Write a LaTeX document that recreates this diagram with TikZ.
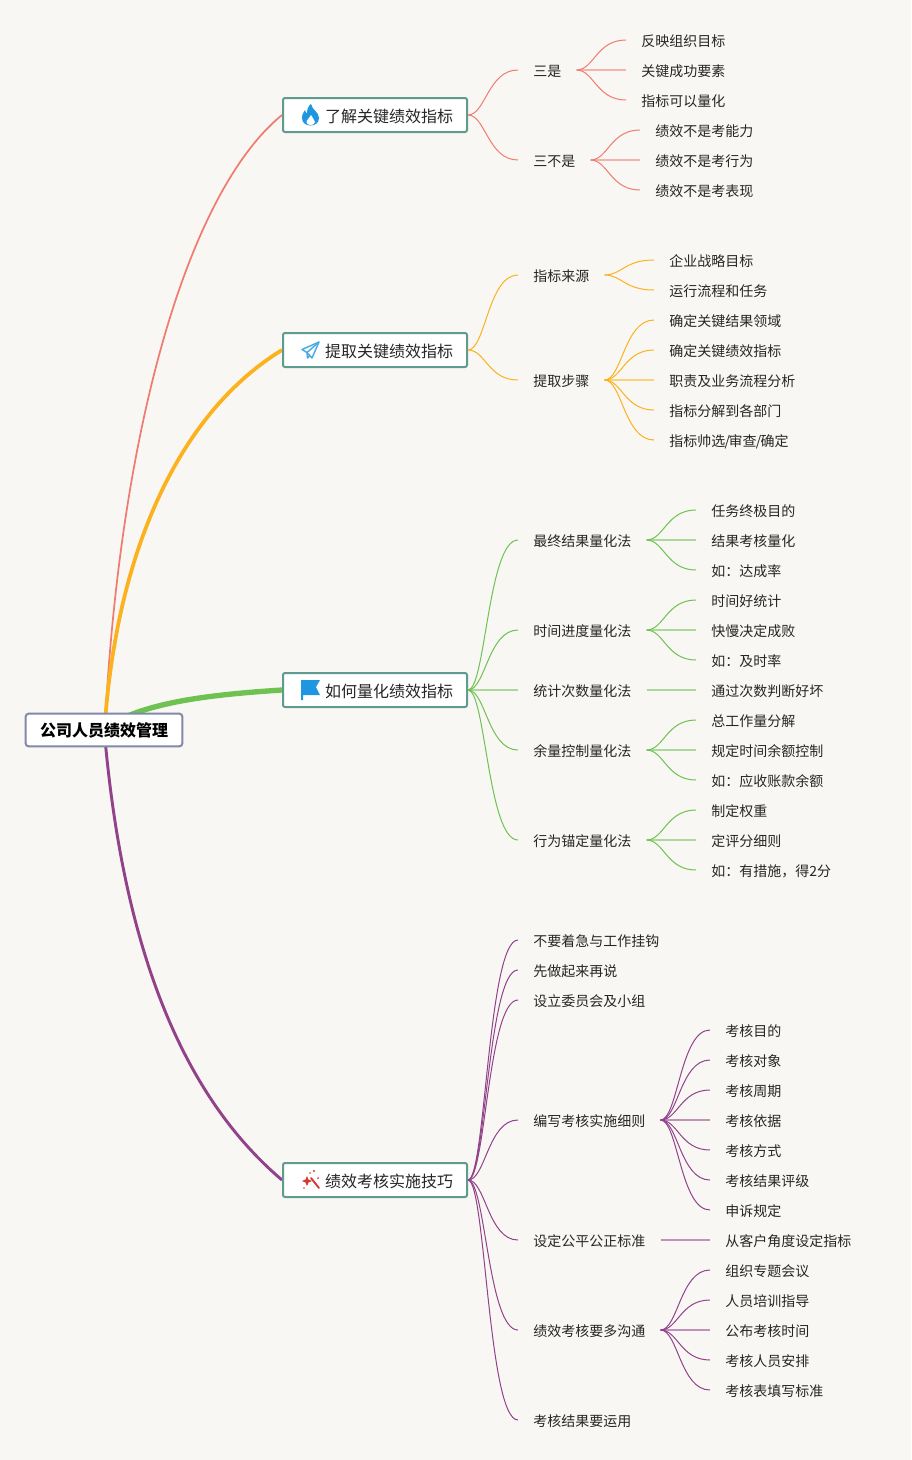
\documentclass[tikz,border=0pt]{standalone}
\usepackage{fontspec}
\setmainfont{Noto Sans CJK SC}
\usetikzlibrary{calc}
\definecolor{bgc}{HTML}{F9F7F4}
\definecolor{cone}{HTML}{F07C70}
\definecolor{ctwo}{HTML}{FBB21E}
\definecolor{cthree}{HTML}{6EC252}
\definecolor{cfour}{HTML}{91428A}
\definecolor{boxc}{HTML}{5F9B8F}
\definecolor{rootc}{HTML}{8189A6}
\definecolor{iconb}{HTML}{1E96E0}
\definecolor{iconr}{HTML}{D8392F}
\pgfdeclarelayer{under}
\pgfsetlayers{under,main}
\tikzset{
  x=0.75pt,y=-0.75pt,
  txt/.style={anchor=west,inner xsep=11.25pt,inner ysep=0pt,font=\fontsize{10.5pt}{12pt}\selectfont,text=black!85,text height=11.2pt,text depth=1.5pt},
  mainbox/.style={draw=boxc,line width=1.5pt,fill=white,rounded corners=1.5pt,minimum height=25.5pt,inner xsep=10.5pt,inner ysep=0pt,anchor=west,font=\fontsize{12pt}{14pt}\selectfont,text=black!85,text height=13pt,text depth=2pt},
  rootbox/.style={draw=rootc,line width=1.5pt,fill=white,rounded corners=2.2pt,minimum width=117.5pt,minimum height=24.5pt,inner xsep=0pt,inner ysep=0pt,font=\fontsize{12pt}{14pt}\selectfont\bfseries,text=black,text height=11.5pt,text depth=2pt},
  br/.style={line width=0.75pt,to path={let \p1=(\tikztostart),\p2=(\tikztotarget) in .. controls (0.65*\x1+0.35*\x2,\y1) and (0.6*\x1+0.4*\x2,\y2) .. (\tikztotarget)}},
  straightbr/.style={line width=1.1pt,opacity=0.55},
  cA/.style={br,draw=cone},
  cB/.style={br,draw=ctwo},
  cC/.style={br,draw=cthree},
  cD/.style={br,draw=cfour},
}
\newcommand{\mainlabel}[1]{\hspace*{21pt}#1}
\begin{document}
\begin{tikzpicture}
\useasboundingbox (0,0) rectangle (911,1460);
\begin{pgfonlayer}{under}
\fill[bgc] (0,0) rectangle (911,1460);
\end{pgfonlayer}

% root and main topics
\node[rootbox] (root) at (104,730) {公司人员绩效管理};
\node[mainbox] (m1) at (282,115) {\mainlabel{了解关键绩效指标}};
\node[mainbox] (m2) at (282,350) {\mainlabel{提取关键绩效指标}};
\node[mainbox] (m3) at (282,690) {\mainlabel{如何量化绩效指标}};
\node[mainbox] (m4) at (282,1180) {\mainlabel{绩效考核实施技巧}};

% second level
\node[txt] (a1) at (518,70) {三是};
\node[txt] (a2) at (518,160) {三不是};
\node[txt] (b1) at (518,275) {指标来源};
\node[txt] (b2) at (518,380) {提取步骤};
\node[txt] (c1) at (518,540) {最终结果量化法};
\node[txt] (c2) at (518,630) {时间进度量化法};
\node[txt] (c3) at (518,690) {统计次数量化法};
\node[txt] (c4) at (518,750) {余量控制量化法};
\node[txt] (c5) at (518,840) {行为锚定量化法};
\node[txt] (d1) at (518,940) {不要着急与工作挂钩};
\node[txt] (d2) at (518,970) {先做起来再说};
\node[txt] (d3) at (518,1000) {设立委员会及小组};
\node[txt] (d4) at (518,1120) {编写考核实施细则};
\node[txt] (d5) at (518,1240) {设定公平公正标准};
\node[txt] (d6) at (518,1330) {绩效考核要多沟通};
\node[txt] (d7) at (518,1420) {考核结果要运用};

% leaves
\node[txt] (a11) at (626,40) {反映组织目标};
\node[txt] (a12) at (626,70) {关键成功要素};
\node[txt] (a13) at (626,100) {指标可以量化};
\node[txt] (a21) at (640,130) {绩效不是考能力};
\node[txt] (a22) at (640,160) {绩效不是考行为};
\node[txt] (a23) at (640,190) {绩效不是考表现};
\node[txt] (b11) at (654,260) {企业战略目标};
\node[txt] (b12) at (654,290) {运行流程和任务};
\node[txt] (b21) at (654,320) {确定关键结果领域};
\node[txt] (b22) at (654,350) {确定关键绩效指标};
\node[txt] (b23) at (654,380) {职责及业务流程分析};
\node[txt] (b24) at (654,410) {指标分解到各部门};
\node[txt] (b25) at (654,440) {指标帅选\kern-.55pt/\kern-1.1pt审查\kern-.55pt/\kern-.55pt确定};
\node[txt] (c11) at (696,510) {任务终极目的};
\node[txt] (c12) at (696,540) {结果考核量化};
\node[txt] (c13) at (696,570) {如：达成率};
\node[txt] (c21) at (696,600) {时间好统计};
\node[txt] (c22) at (696,630) {快慢决定成败};
\node[txt] (c23) at (696,660) {如：及时率};
\node[txt] (c31) at (696,690) {通过次数判断好坏};
\node[txt] (c41) at (696,720) {总工作量分解};
\node[txt] (c42) at (696,750) {规定时间余额控制};
\node[txt] (c43) at (696,780) {如：应收账款余额};
\node[txt] (c51) at (696,810) {制定权重};
\node[txt] (c52) at (696,840) {定评分细则};
\node[txt] (c53) at (696,870) {如：有措施，得2分};
\node[txt] (d41) at (710,1030) {考核目的};
\node[txt] (d42) at (710,1060) {考核对象};
\node[txt] (d43) at (710,1090) {考核周期};
\node[txt] (d44) at (710,1120) {考核依据};
\node[txt] (d45) at (710,1150) {考核方式};
\node[txt] (d46) at (710,1180) {考核结果评级};
\node[txt] (d47) at (710,1210) {申诉规定};
\node[txt] (d51) at (710,1240) {从客户角度设定指标};
\node[txt] (d61) at (710,1270) {组织专题会议};
\node[txt] (d62) at (710,1300) {人员培训指导};
\node[txt] (d63) at (710,1330) {公布考核时间};
\node[txt] (d64) at (710,1360) {考核人员安排};
\node[txt] (d65) at (710,1390) {考核表填写标准};

% main connectors, beneath the boxes
\begin{pgfonlayer}{under}
\draw[cone,line width=1.3pt] ($(root.north)+(1.5,3)$) .. controls (122,420) and (190,190) .. (m1.west);
\draw[ctwo,line width=2.8pt] ($(root.north)+(1.5,3)$) .. controls (120,540) and (184,410) .. (m2.west);
\draw[cthree,line width=4pt] ($(root.north)+(22,4)$) .. controls (165,700) and (220,694) .. (m3.west);
\draw[cfour,line width=2.2pt] ($(root.south)+(1.5,-3)$) .. controls (125,950) and (182,1095) .. (m4.west);
\end{pgfonlayer}

% branch connectors
\foreach \t in {a1,a2} \draw[cA] (m1.east) to (\t.west);
\foreach \t in {a11,a13} \draw[cA] (a1.east) to (\t.west);
\draw[cA,straightbr] (a1.east) to (a12.west);
\foreach \t in {a21,a23} \draw[cA] (a2.east) to (\t.west);
\draw[cA,straightbr] (a2.east) to (a22.west);
\foreach \t in {b1,b2} \draw[cB] (m2.east) to (\t.west);
\foreach \t in {b11,b12} \draw[cB] (b1.east) to (\t.west);
\foreach \t in {b21,b22,b24,b25} \draw[cB] (b2.east) to (\t.west);
\draw[cB,straightbr] (b2.east) to (b23.west);
\foreach \t in {c1,c2,c4,c5} \draw[cC] (m3.east) to (\t.west);
\draw[cC,straightbr] (m3.east) to (c3.west);
\foreach \t in {c11,c13} \draw[cC] (c1.east) to (\t.west);
\draw[cC,straightbr] (c1.east) to (c12.west);
\foreach \t in {c21,c23} \draw[cC] (c2.east) to (\t.west);
\draw[cC,straightbr] (c2.east) to (c22.west);
\draw[cC,straightbr] (c3.east) to (c31.west);
\foreach \t in {c41,c43} \draw[cC] (c4.east) to (\t.west);
\draw[cC,straightbr] (c4.east) to (c42.west);
\foreach \t in {c51,c53} \draw[cC] (c5.east) to (\t.west);
\draw[cC,straightbr] (c5.east) to (c52.west);
\foreach \t in {d1,d2,d3,d4,d5,d6,d7} \draw[cD] (m4.east) to (\t.west);
\foreach \t in {d41,d42,d43,d45,d46,d47} \draw[cD] (d4.east) to (\t.west);
\draw[cD,straightbr] (d4.east) to (d44.west);
\draw[cD,straightbr] (d5.east) to (d51.west);
\foreach \t in {d61,d62,d64,d65} \draw[cD] (d6.east) to (\t.west);
\draw[cD,straightbr] (d6.east) to (d63.west);

% icon: flame
\fill[iconb] (311,104) .. controls (312,110) and (319,112) .. (319,118) .. controls (319,123) and (315,125.5) .. (310.5,125.5) .. controls (306,125.5) and (302,123) .. (302,118) .. controls (302,114) and (304,112) .. (305,110) .. controls (305.5,112) and (306,113) .. (307,113.5) .. controls (307,110) and (308,106) .. (311,104) -- cycle;
\fill[white] (311,115) .. controls (311.5,118) and (315,119) .. (315,122) .. controls (315,124) and (313,125) .. (310.5,125) .. controls (308,125) and (306.5,124) .. (306.5,122) .. controls (306.5,119.5) and (310,118) .. (311,115) -- cycle;
% icon: paper plane
\draw[iconb!80,line width=1.1pt,line join=round] (319,342) -- (302,349.5) -- (307,352.5) -- (312,358) -- cycle;
\draw[iconb!80,line width=1.1pt,line join=round] (319,342) -- (307,352.5) -- (307.5,358) -- (310,355.5);
% icon: flag
\fill[iconb] (301,680) -- (320,680) -- (316,687) -- (320,695) -- (303,695) -- (303,700) -- (301,700) -- cycle;
% icon: magic wand
\draw[iconr,line width=1.4pt,line cap=round] (311,1178) -- (319,1188);
\fill[iconr] (307,1176) -- (308.5,1179.5) -- (312,1181) -- (308.5,1182.5) -- (307,1186) -- (305.5,1182.5) -- (302,1181) -- (305.5,1179.5) -- cycle;
\fill[iconr] (314,1171) circle (1.2);
\fill[iconr] (318,1178) circle (1);
\fill[iconr] (310,1173) circle (0.8);
\fill[iconr] (304,1188) circle (0.8);
\end{tikzpicture}
\end{document}
